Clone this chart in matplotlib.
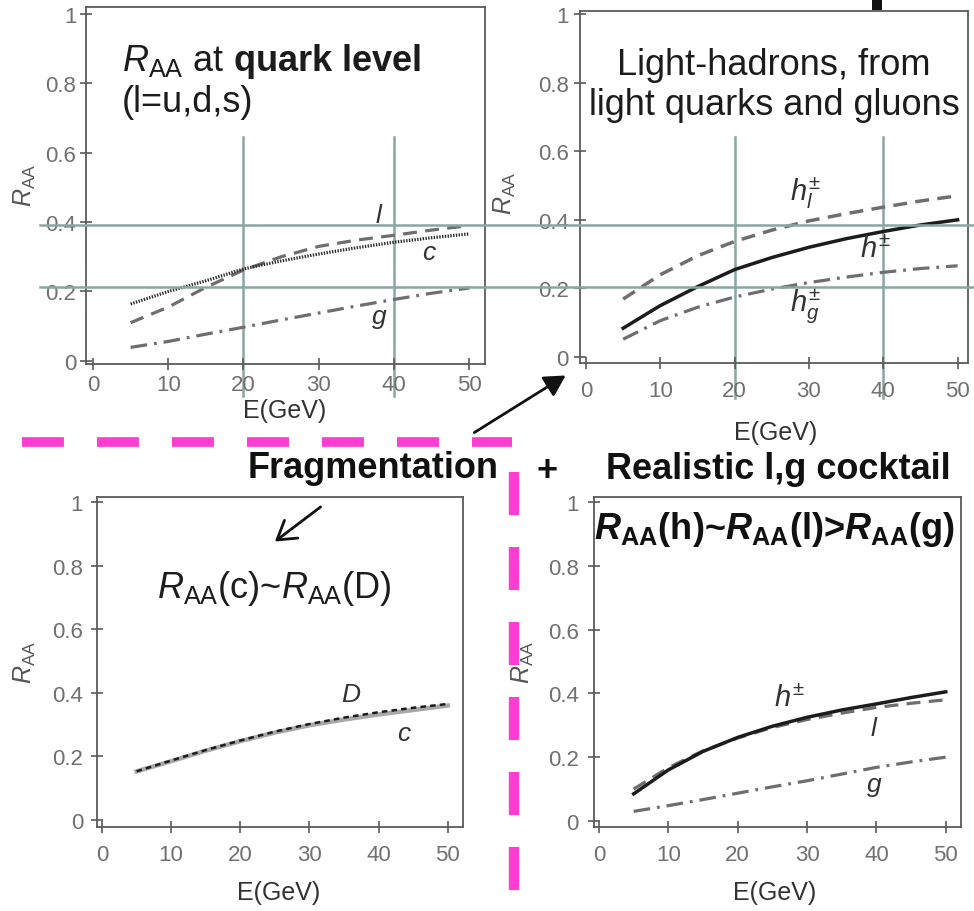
import matplotlib
matplotlib.use("Agg")
import matplotlib.pyplot as plt
from matplotlib.lines import Line2D
from matplotlib.patches import FancyArrowPatch, Rectangle
import matplotlib.transforms as mtransforms

plt.rcParams["font.family"] = ["Liberation Sans", "DejaVu Sans"]
plt.rcParams["mathtext.fontset"] = "custom"
plt.rcParams["mathtext.rm"] = "Liberation Sans"
plt.rcParams["mathtext.it"] = "Liberation Sans:italic"
plt.rcParams["mathtext.bf"] = "Liberation Sans:bold"
plt.rcParams["mathtext.bfit"] = "Liberation Sans:bold:italic"
plt.rcParams["lines.scale_dashes"] = False

# ---- data -------------------------------------------------------------
energy = [5, 10, 15, 20, 25, 30, 35, 40, 45, 50]

# quark level
raa_light_quark = [0.11, 0.155, 0.212, 0.262, 0.30, 0.33, 0.348, 0.362, 0.377, 0.39]
raa_charm_quark = [0.164, 0.20, 0.231, 0.265, 0.288, 0.308, 0.326, 0.342, 0.355, 0.366]
raa_gluon_quark = [0.039, 0.056, 0.077, 0.097, 0.118, 0.138, 0.158, 0.177, 0.195, 0.21]

# light hadrons from light quarks and gluons
raa_h_light = [0.169, 0.24, 0.295, 0.337, 0.37, 0.397, 0.418, 0.437, 0.455, 0.47]
raa_h_all = [0.084, 0.15, 0.205, 0.255, 0.29, 0.32, 0.345, 0.366, 0.385, 0.40]
raa_h_gluon = [0.052, 0.106, 0.145, 0.175, 0.198, 0.217, 0.233, 0.247, 0.258, 0.266]

# charm quark vs D meson
raa_D = [0.153, 0.187, 0.22, 0.25, 0.278, 0.302, 0.322, 0.339, 0.353, 0.365]
raa_c = [0.153, 0.185, 0.218, 0.248, 0.275, 0.298, 0.316, 0.332, 0.346, 0.36]

# realistic light/gluon cocktail
raa_h_cocktail = [0.085, 0.16, 0.218, 0.262, 0.297, 0.325, 0.348, 0.367, 0.387, 0.405]
raa_l_cocktail = [0.10, 0.167, 0.22, 0.26, 0.293, 0.318, 0.338, 0.356, 0.369, 0.38]
raa_g_cocktail = [0.03, 0.048, 0.067, 0.087, 0.107, 0.126, 0.147, 0.168, 0.185, 0.20]

xticks = [0, 10, 20, 30, 40, 50]
yticks = [0, 0.2, 0.4, 0.6, 0.8, 1.0]
ytick_labels = ["0", "0.2", "0.4", "0.6", "0.8", "1"]
guide_E = [20, 40]
guide_levels = [0.392, 0.213]

# ---- figure -----------------------------------------------------------
W, H = 974, 912
fig = plt.figure(figsize=(W / 100, H / 100), dpi=100)
fig.patch.set_facecolor("white")


def fx(px):
    return px / W


def fy(py):
    return 1 - py / H


SPINE = "#5a5a5a"
TICKLAB = "#707070"
DASHGRAY = "#6e6e6e"
GUIDE = "#8aa6a2"
MAGENTA = "#ff3dd2"
INK = "#1c1c1c"

DASHED = (0, (10, 6))
DASHDOT = (0, (12, 5, 2, 5))
TITLE_FS = 26
CURVE_FS = 19


def make_axes(left, top, right, bottom, xlim, ylim, xpad, ypad):
    ax = fig.add_axes([fx(left), fy(bottom), (right - left) / W, (bottom - top) / H])
    ax.set_xlim(*xlim)
    ax.set_ylim(*ylim)
    ax.set_xticks(xticks)
    ax.set_yticks(yticks)
    ax.set_yticklabels(ytick_labels)
    for s in ax.spines.values():
        s.set_color(SPINE)
        s.set_linewidth(1.3)
    ax.tick_params(axis="both", direction="inout", length=8, width=1.2,
                   color=SPINE, labelcolor=TICKLAB, labelsize=16)
    ax.tick_params(axis="x", pad=xpad)
    ax.tick_params(axis="y", pad=ypad)
    ax.set_xlabel("E(GeV)", fontsize=18, color="#333333")
    ax.set_ylabel(r"$\mathit{R}_{\mathrm{AA}}$", fontsize=18, color="#555555")
    ax.xaxis.label.set_va("center")
    ax.yaxis.label.set_va("center")
    ax.yaxis.label.set_ha("center")
    return ax


def curve_label(ax, x, y, s, size=CURVE_FS):
    ax.text(x, y, s, fontsize=size, color="#333333", ha="center", va="center")


# panel 1: quark level
ax1 = make_axes(86, 8, 485, 365, (-0.93, 52.1), (-0.009, 1.02), 3, 3)
ax1.xaxis.set_label_coords(0.499, -0.128)
ax1.yaxis.set_label_coords(-0.153, 0.504)
ax1.plot(energy, raa_light_quark, color=DASHGRAY, lw=2.3, ls=DASHED)
ax1.plot(energy, raa_charm_quark, color="#2a2a2a", lw=2.3, ls=(0, (1, 1)))
ax1.plot(energy, raa_gluon_quark, color=DASHGRAY, lw=2.3, ls=DASHDOT)
ax1.text(0.09, 0.85, r"$\mathit{R}_{\mathrm{AA}}$ at $\mathbf{quark\ level}$",
         transform=ax1.transAxes, fontsize=TITLE_FS, color=INK, va="center", ha="left")
ax1.text(0.09, 0.735, "(l=u,d,s)", transform=ax1.transAxes, fontsize=TITLE_FS,
         color=INK, va="center", ha="left")
curve_label(ax1, 38, 0.42, r"$\mathit{l}$")
curve_label(ax1, 44.7, 0.315, r"$\mathit{c}$")
curve_label(ax1, 38, 0.125, r"$\mathit{g}$")

# panel 2: light hadrons
ax2 = make_axes(580, 12, 968, 364, (-0.81, 51.4), (-0.0175, 1.009), 8, 4)
ax2.xaxis.set_label_coords(0.504, -0.196)
ax2.yaxis.set_label_coords(-0.194, 0.486)
ax2.plot(energy, raa_h_light, color=DASHGRAY, lw=2.5, ls=DASHED)
ax2.plot(energy, raa_h_all, color=INK, lw=2.5, ls="-")
ax2.plot(energy, raa_h_gluon, color=DASHGRAY, lw=2.3, ls=DASHDOT)
ax2.text(0.5, 0.848, "Light-hadrons, from", transform=ax2.transAxes, fontsize=TITLE_FS,
         color=INK, ha="center", va="center")
ax2.text(0.5, 0.735, "light quarks and gluons", transform=ax2.transAxes, fontsize=TITLE_FS,
         color=INK, ha="center", va="center")
curve_label(ax2, 29.5, 0.48, r"$\mathit{h}_{l}^{\pm}$", 21)
curve_label(ax2, 39.0, 0.315, r"$\mathit{h}^{\pm}$", 21)
curve_label(ax2, 29.5, 0.15, r"$\mathit{h}_{g}^{\pm}$", 21)

# guide lines across the two upper panels
for e in guide_E:
    ax1.axvline(e, ymin=-0.09, ymax=0.636, color=GUIDE, lw=1.8, clip_on=False, zorder=0.5)
    ax2.axvline(e, ymin=-0.1, ymax=0.642, color=GUIDE, lw=1.8, clip_on=False, zorder=0.5)
blend = mtransforms.blended_transform_factory(fig.transFigure, ax1.transData)
for lvl in guide_levels:
    fig.add_artist(Line2D([fx(40), 1.0], [lvl, lvl], transform=blend,
                          color=GUIDE, lw=1.8, zorder=0.5))

# panel 3: charm vs D
ax3 = make_axes(97, 498, 463, 828, (-0.72, 52.2), (-0.022, 1.016), 8, 6)
ax3.xaxis.set_label_coords(0.495, -0.197)
ax3.yaxis.set_label_coords(-0.197, 0.503)
ax3.plot(energy, raa_c, color="#a8a8a8", lw=3.2, ls="-")
ax3.plot(energy, raa_D, color=INK, lw=1.8, ls=(0, (4, 3)))
ax3.text(0.485, 0.725, r"$\mathit{R}_{\mathrm{AA}}$(c)~$\mathit{R}_{\mathrm{AA}}$(D)",
         transform=ax3.transAxes, fontsize=TITLE_FS, color=INK, ha="center", va="center")
curve_label(ax3, 36, 0.395, r"$\mathit{D}$")
curve_label(ax3, 43.8, 0.275, r"$\mathit{c}$")
ax3.add_artist(FancyArrowPatch((0.617, 0.975), (0.48, 0.86), transform=ax3.transAxes,
                               arrowstyle="->,head_length=8,head_width=5", lw=2.0,
                               color="#111111", mutation_scale=1.6))

# panel 4: realistic cocktail
ax4 = make_axes(594, 498, 961, 828, (-0.72, 52.2), (-0.019, 1.016), 8, 7)
ax4.xaxis.set_label_coords(0.493, -0.197)
ax4.yaxis.set_label_coords(-0.193, 0.503)
ax4.plot(energy, raa_l_cocktail, color=DASHGRAY, lw=2.3, ls=DASHED)
ax4.plot(energy, raa_h_cocktail, color=INK, lw=2.5, ls="-")
ax4.plot(energy, raa_g_cocktail, color=DASHGRAY, lw=2.3, ls=DASHDOT)
ax4.text(0.49, 0.905,
         r"$\mathbfit{R}_{\mathbf{AA}}$(h)~$\mathbfit{R}_{\mathbf{AA}}$(l)>$\mathbfit{R}_{\mathbf{AA}}$(g)",
         transform=ax4.transAxes, fontsize=TITLE_FS, fontweight="bold", color="#111111",
         ha="center", va="center")
curve_label(ax4, 27.5, 0.385, r"$\mathit{h}^{\pm}$", 21)
curve_label(ax4, 39.7, 0.29, r"$\mathit{l}$")
curve_label(ax4, 39.7, 0.11, r"$\mathit{g}$")

# section headings between the panels
fig.text(fx(373), fy(468), "Fragmentation", fontsize=TITLE_FS, fontweight="bold",
         color="#111111", ha="center", va="center")
fig.text(fx(547), fy(472), "+", fontsize=TITLE_FS, fontweight="bold",
         color="#111111", ha="center", va="center")
fig.text(fx(778), fy(470), "Realistic l,g cocktail", fontsize=TITLE_FS, fontweight="bold",
         color="#111111", ha="center", va="center")

# arrow from quark level to hadron panel
fig.add_artist(FancyArrowPatch((fx(472), fy(435)), (fx(568), fy(375)),
                               transform=fig.transFigure,
                               arrowstyle="-|>,head_length=9,head_width=5",
                               lw=2.0, color="#111111", mutation_scale=1.4))

# magenta separators
fig.add_artist(Line2D([fx(22), fx(512)], [fy(443), fy(443)], transform=fig.transFigure,
                      color=MAGENTA, lw=7, ls=(0, (30.2, 23.8)), solid_capstyle="butt",
                      dash_capstyle="butt"))
fig.add_artist(Line2D([fx(513.5), fx(513.5)], [fy(473), fy(912)], transform=fig.transFigure,
                      color=MAGENTA, lw=7.5, ls=(0, (31, 23)), solid_capstyle="butt",
                      dash_capstyle="butt"))

# small dark tab at the top edge
fig.add_artist(Rectangle((fx(872), fy(11)), 10 / W, 11 / H, transform=fig.transFigure,
                         color="#111111", lw=0))

fig.savefig("out.png", dpi=100)
